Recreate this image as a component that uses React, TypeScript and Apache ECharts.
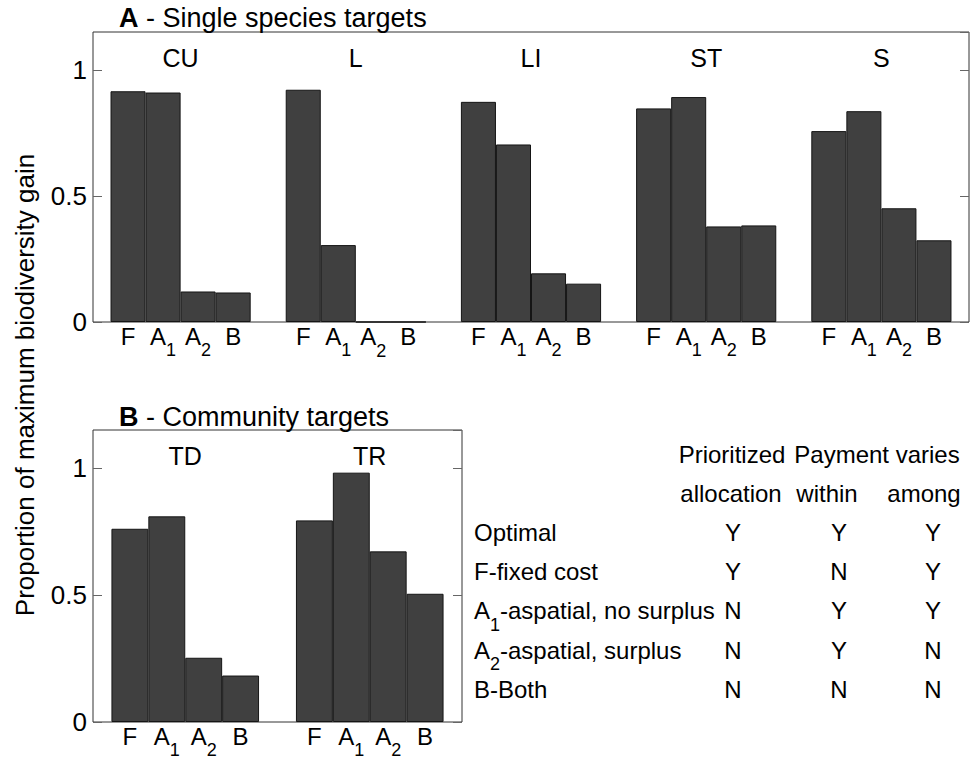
import React, { useEffect, useRef } from 'react';
import * as echarts from 'echarts';

const FONT = "'Liberation Sans', Arial, Helvetica, sans-serif";

// Methods (bars within each group)
const methods = ['F', 'A1', 'A2', 'B'];

// Panel A - Single species targets
const singleGroups = ['CU', 'L', 'LI', 'ST', 'S'];
const singleF = [0.915, 0.921, 0.873, 0.847, 0.757];
const singleA1 = [0.910, 0.305, 0.704, 0.892, 0.836];
const singleA2 = [0.121, 0, 0.193, 0.379, 0.451];
const singleB = [0.117, 0, 0.152, 0.383, 0.324];

// Panel B - Community targets
const communityGroups = ['TD', 'TR'];
const communityF = [0.761, 0.794];
const communityA1 = [0.810, 0.982];
const communityA2 = [0.253, 0.672];
const communityB = [0.183, 0.505];

// Y axis ticks
const yTickValues = [0, 0.5, 1];

// Table
const tableHeader1 = ['Prioritized', 'Payment varies'];
const tableHeader2 = ['allocation', 'within', 'among'];
const tableRows = ['Optimal', 'F-fixed cost', 'A1-aspatial, no surplus', 'A2-aspatial, surplus', 'B-Both'];
const colPrioritized = ['Y', 'Y', 'N', 'N', 'N'];
const colWithin = ['Y', 'N', 'Y', 'Y', 'N'];
const colAmong = ['Y', 'Y', 'Y', 'N', 'N'];

const panelATitle = ['A', ' - Single species targets'];
const panelBTitle = ['B', ' - Community targets'];
const yLabel = 'Proportion of maximum biodiversity gain';

const MAIN = 24;
const SUB = 18;

const rich = {
  m: { fontSize: MAIN, lineHeight: 28, verticalAlign: 'top', fontFamily: FONT, color: '#000' },
  s: { fontSize: SUB, lineHeight: 18, verticalAlign: 'top', padding: [17, 0, 0, 0], fontFamily: FONT, color: '#000' },
  b: { fontSize: 27, fontWeight: 'bold', fontFamily: FONT, color: '#000' },
  t: { fontSize: 27, fontFamily: FONT, color: '#000' },
};

// Convert "A1-aspatial" -> rich text with subscript digit after leading letter
function toRich(s: string): string {
  const m = s.match(/^([A-Z])(\d)(.*)$/);
  if (m) {
    return `{m|${m[1]}}{s|${m[2]}}` + (m[3] ? `{m|${m[3]}}` : '');
  }
  return `{m|${s}}`;
}

export default function App() {
  const ref = useRef<HTMLDivElement>(null);

  useEffect(() => {
    document.body.style.margin = '0';
    if (!ref.current) return;
    const chart = echarts.init(ref.current, null, { renderer: 'svg' });

    const yMax = 1.15;
    const gridA = { left: 93, top: 32, width: 876, height: 290 };
    const gridB = { left: 93, top: 430, width: 369, height: 292 };

    const yAxisBase = (gridIndex: number, position: 'left' | 'right', showLabel: boolean) => ({
      type: 'value',
      gridIndex,
      position,
      min: 0,
      max: yMax,
      interval: 0.5,
      axisLine: { show: false },
      splitLine: { show: false },
      axisTick: { show: true, inside: true, length: 9, lineStyle: { color: '#666', width: 1 } },
      axisLabel: {
        show: showLabel,
        showMaxLabel: false,
        margin: 6,
        fontSize: 26,
        fontFamily: FONT,
        color: '#000',
        formatter: (v: number) => (yTickValues.some((t) => Math.abs(t - v) < 1e-9) ? String(v) : ''),
      },
    });

    const xAxisBase = (gridIndex: number, data: string[]) => ({
      type: 'category',
      gridIndex,
      position: 'top',
      data,
      axisLine: { show: false },
      axisTick: { show: false },
      splitLine: { show: false },
      axisLabel: { inside: true, margin: 13, fontSize: 25, fontFamily: FONT, color: '#000' },
    });

    const barSeries = (name: string, data: number[], gi: number) => ({
      type: 'bar',
      name,
      xAxisIndex: gi,
      yAxisIndex: gi * 2,
      data,
      barGap: '0%',
      barCategoryGap: '20%',
      itemStyle: { color: '#404040', borderColor: '#151515', borderWidth: 1 },
      label: {
        show: true,
        position: 'bottom',
        distance: 2,
        formatter: toRich(name),
        rich,
      },
    });

    const singleValues = [singleF, singleA1, singleA2, singleB];
    const communityValues = [communityF, communityA1, communityA2, communityB];

    const series: any[] = [];
    methods.forEach((m, i) => series.push(barSeries(m, singleValues[i], 0)));
    methods.forEach((m, i) => series.push(barSeries(m, communityValues[i], 1)));

    const graphics: any[] = [];
    const txt = (text: string, x: number, y: number, align: string) => ({
      type: 'text',
      x,
      y,
      silent: true,
      style: {
        text,
        rich,
        align,
        textAlign: align,
        verticalAlign: 'top',
        textVerticalAlign: 'top',
        fontSize: MAIN,
        fontFamily: FONT,
        fill: '#000',
      },
    });

    // Panel titles
    graphics.push({
      type: 'text', x: 119, y: 18, silent: true,
      style: { text: `{b|${panelATitle[0]}}{t|${panelATitle[1]}}`, rich, align: 'left', verticalAlign: 'middle', textAlign: 'left', textVerticalAlign: 'middle' },
    });
    graphics.push({
      type: 'text', x: 119, y: 417, silent: true,
      style: { text: `{b|${panelBTitle[0]}}{t|${panelBTitle[1]}}`, rich, align: 'left', verticalAlign: 'middle', textAlign: 'left', textVerticalAlign: 'middle' },
    });

    // Y label
    graphics.push({
      type: 'text', x: 25, y: 385, rotation: Math.PI / 2, silent: true,
      style: { text: yLabel, fontSize: 26, fontFamily: FONT, fill: '#000', align: 'center', verticalAlign: 'middle', textAlign: 'center', textVerticalAlign: 'middle' },
    });

    // Table
    const rowY0 = 456;
    const rowStep = 39.2;
    const colX = [733, 839, 933];
    const half = 14;
    graphics.push(txt(toRich(tableHeader1[0]), 732, rowY0 - half, 'center'));
    graphics.push(txt(toRich(tableHeader1[1]), 877, rowY0 - half, 'center'));
    tableHeader2.forEach((h, i) => {
      const cx = [731, 827, 924][i];
      graphics.push(txt(toRich(h), cx, rowY0 + rowStep - half, 'center'));
    });
    tableRows.forEach((r, i) => {
      const y = rowY0 + rowStep * (i + 2) - half;
      graphics.push(txt(toRich(r), 474, y, 'left'));
      graphics.push(txt(toRich(colPrioritized[i]), colX[0], y, 'center'));
      graphics.push(txt(toRich(colWithin[i]), colX[1], y, 'center'));
      graphics.push(txt(toRich(colAmong[i]), colX[2], y, 'center'));
    });

    chart.setOption({
      animation: false,
      backgroundColor: '#fff',
      grid: [
        { ...gridA, show: true, borderColor: '#333', borderWidth: 1, backgroundColor: '#fff' },
        { ...gridB, show: true, borderColor: '#333', borderWidth: 1, backgroundColor: '#fff' },
      ],
      xAxis: [xAxisBase(0, singleGroups), xAxisBase(1, communityGroups)],
      yAxis: [
        yAxisBase(0, 'left', true),
        yAxisBase(0, 'right', false),
        yAxisBase(1, 'left', true),
        yAxisBase(1, 'right', false),
      ],
      series,
      graphic: graphics,
    });

    return () => chart.dispose();
  }, []);

  return <div ref={ref} style={{ width: 972, height: 761 }} />;
}
